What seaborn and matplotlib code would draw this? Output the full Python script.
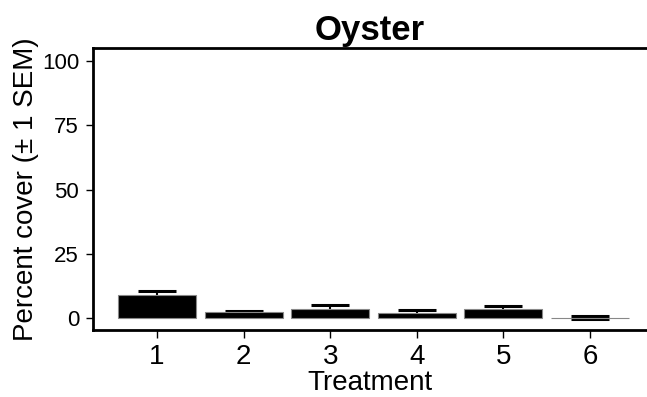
import matplotlib
matplotlib.use('Agg')
import matplotlib.pyplot as plt
import seaborn as sns
import numpy as np
import pandas as pd

# values
treatments = ['1', '2', '3', '4', '5', '6']
cover_mean = [9.0, 2.3, 3.7, 2.1, 3.7, 0.3]
cover_sem = [1.7, 0.6, 1.3, 1.3, 1.2, 0.5]


def main():
    sns.set_style('ticks')
    plt.rcParams['font.family'] = ['Liberation Sans', 'DejaVu Sans']
    plt.rcParams['text.color'] = 'black'
    plt.rcParams['axes.labelcolor'] = 'black'
    plt.rcParams['xtick.color'] = 'black'
    plt.rcParams['ytick.color'] = 'black'

    df = pd.DataFrame({'Treatment': treatments, 'cover': cover_mean})

    fig = plt.figure(figsize=(6.47, 3.97), dpi=100)
    ax = fig.add_axes([0.1437, 0.1688, 0.8563, 0.7102])

    # error bars first so the lower half is hidden under the bars
    ax.errorbar(np.arange(len(treatments)), cover_mean, yerr=cover_sem,
                fmt='none', ecolor='black', elinewidth=1.5,
                capsize=13.5, capthick=2.2, zorder=1)
    sns.barplot(data=df, x='Treatment', y='cover', order=treatments,
                color='black', width=0.9, errorbar=None,
                edgecolor='#888888', linewidth=0.8, zorder=2, ax=ax)
    for p in ax.patches:
        p.set_facecolor('black')

    ax.set_xlim(-0.74, 5.66)
    ax.set_ylim(-4.55, 105.05)
    ax.set_yticks([0, 25, 50, 75, 100])

    ax.set_title('Oyster', fontsize=25, fontweight='bold', pad=6)
    ax.set_xlabel('Treatment', fontsize=20, labelpad=0)
    ax.set_ylabel('Percent cover (± 1 SEM)', fontsize=20, labelpad=2)
    ax.tick_params(axis='x', labelsize=20, width=1, length=6, pad=4)
    ax.tick_params(axis='y', labelsize=16, width=1, length=5, pad=5)

    for side in ['left', 'bottom', 'top']:
        ax.spines[side].set_linewidth(2)
        ax.spines[side].set_color('black')
    ax.spines['right'].set_visible(False)

    plt.savefig('out.png', dpi=100)


if __name__ == '__main__':
    main()
